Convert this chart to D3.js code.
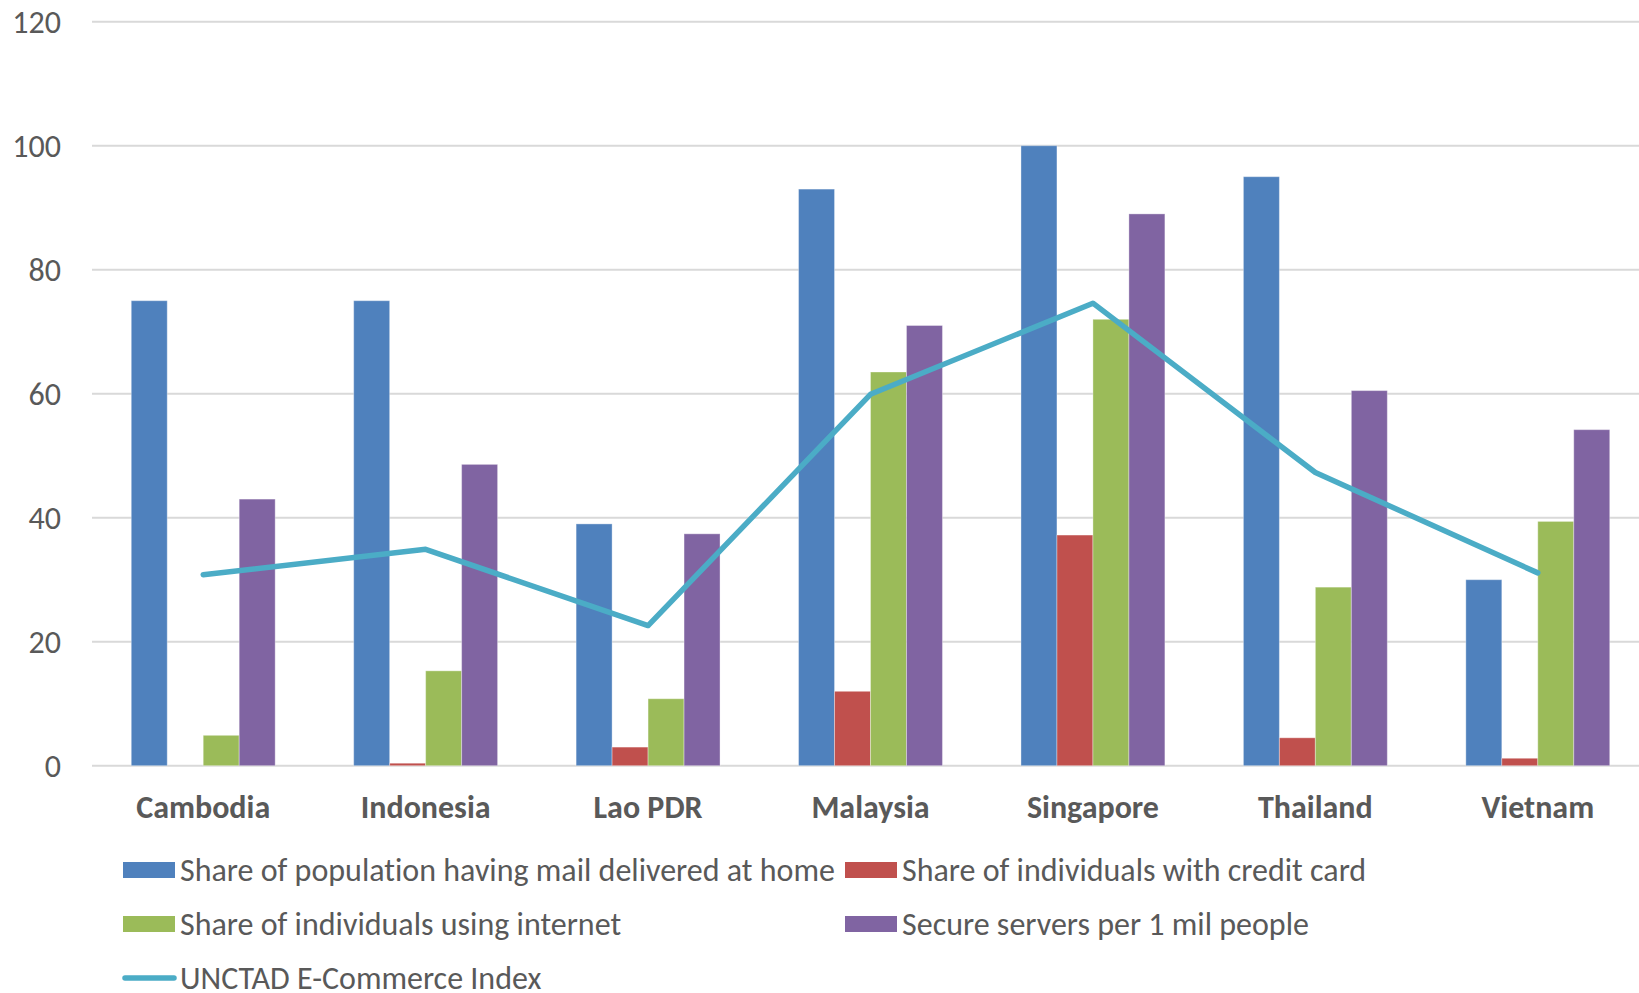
<!DOCTYPE html>
<html>
<head>
<meta charset="utf-8">
<script src="https://cdn.jsdelivr.net/npm/d3@7/dist/d3.min.js"></script>
<style>
    body { margin: 0; background: #fff; }
    svg text { font-family: Carlito, Calibri, "Open Sans", sans-serif; fill: #595959; font-variant-ligatures: none; }
</style>
</head>
<body>
<svg id="chart" width="1639" height="993"></svg>
<script>
var categories = ['Cambodia', 'Indonesia', 'Lao PDR', 'Malaysia', 'Singapore', 'Thailand', 'Vietnam'];
var mailAtHome = [75, 75, 39, 93, 100, 95, 30];
var creditCard = [0, 0.4, 3, 12, 37.2, 4.5, 1.2];
var internetUse = [4.9, 15.3, 10.8, 63.5, 72, 28.8, 39.4];
var secureServers = [43, 48.6, 37.4, 71, 89, 60.5, 54.2];
var ecommerceIndex = [30.8, 34.9, 22.6, 59.9, 74.6, 47.3, 31.1];
var yTicks = [0, 20, 40, 60, 80, 100, 120];

var barSeries = [
    { name: 'Share of population having mail delivered at home', color: '#4f81bd', values: mailAtHome },
    { name: 'Share of individuals with credit card', color: '#c0504d', values: creditCard },
    { name: 'Share of individuals using internet', color: '#9bbb59', values: internetUse },
    { name: 'Secure servers per 1 mil people', color: '#8064a2', values: secureServers }
];
var lineSeries = { name: 'UNCTAD E-Commerce Index', color: '#4bacc6', values: ecommerceIndex };

// plot area runs a little past the right edge of the picture (it is clipped there)
var svg = d3.select('#chart'),
    plotLeft = 92, plotRight = 1649, plotTop = 21.7, plotBottom = 765.7;

var x0 = d3.scaleBand().domain(categories).range([plotLeft, plotRight]).paddingInner(0.353).paddingOuter(0.1765),
    x1 = d3.scaleBand().domain(d3.range(barSeries.length)).range([0, x0.bandwidth()]),
    y = d3.scaleLinear().domain([0, 120]).range([plotBottom, plotTop]);

// gridlines
svg.append('g').selectAll('line').data(yTicks).enter().append('line')
    .attr('x1', plotLeft).attr('x2', plotRight)
    .attr('y1', function (d) { return y(d); }).attr('y2', function (d) { return y(d); })
    .attr('stroke', '#d9d9d9').attr('stroke-width', 2);

// y axis labels
var yAxis = svg.append('g').attr('transform', 'translate(' + 61 + ',0)')
    .call(d3.axisLeft(y).tickValues(yTicks).tickSize(0).tickPadding(0));
yAxis.select('.domain').remove();
yAxis.attr('font-family', null).attr('font-size', null);
yAxis.selectAll('text').style('font-size', '32px').attr('fill', '#595959').attr('dy', '0.35em');

// category labels
var xAxis = svg.append('g').attr('transform', 'translate(0,' + plotBottom + ')')
    .call(d3.axisBottom(x0).tickSize(0).tickPadding(0));
xAxis.select('.domain').remove();
xAxis.attr('font-family', null).attr('font-size', null);
xAxis.selectAll('text').style('font-size', '32px').style('font-weight', 'bold')
    .attr('fill', '#595959').attr('y', 52).attr('dy', 0);

// bars
var groups = svg.append('g').selectAll('g').data(categories).enter().append('g')
    .attr('transform', function (d) { return 'translate(' + x0(d) + ',0)'; });

groups.selectAll('rect')
    .data(function (d, i) {
        return barSeries.map(function (s, k) { return { k: k, v: s.values[i], color: s.color }; });
    })
    .enter().append('rect')
    .attr('x', function (d) { return x1(d.k); })
    .attr('width', x1.bandwidth())
    .attr('y', function (d) { return y(d.v); })
    .attr('height', function (d) { return y(0) - y(d.v); })
    .attr('fill', function (d) { return d.color; })
    .attr('stroke', 'rgba(255,255,255,0.35)').attr('stroke-width', 1);

// line
var line = d3.line()
    .x(function (d, i) { return x0(categories[i]) + x0.bandwidth() / 2; })
    .y(function (d) { return y(d); });

svg.append('path').datum(lineSeries.values)
    .attr('d', line)
    .attr('fill', 'none')
    .attr('stroke', lineSeries.color)
    .attr('stroke-width', 5.5)
    .attr('stroke-linejoin', 'round')
    .attr('stroke-linecap', 'round');

// legend
var legendItems = [
    { s: barSeries[0], x: 123, y: 870 },
    { s: barSeries[1], x: 845, y: 870 },
    { s: barSeries[2], x: 123, y: 924 },
    { s: barSeries[3], x: 845, y: 924 },
    { s: lineSeries, x: 123, y: 978, line: true }
];

var legend = svg.append('g').selectAll('g').data(legendItems).enter().append('g')
    .attr('transform', function (d) { return 'translate(' + d.x + ',' + d.y + ')'; });

legend.each(function (d) {
    var g = d3.select(this);
    if (d.line) {
        g.append('line').attr('x1', 2).attr('x2', 51).attr('y1', 0).attr('y2', 0)
            .attr('stroke', d.s.color).attr('stroke-width', 5.5).attr('stroke-linecap', 'round');
    } else {
        g.append('rect').attr('x', 0).attr('y', -8).attr('width', 52).attr('height', 16)
            .attr('fill', d.s.color);
    }
    g.append('text').attr('x', 57).attr('y', 0).attr('dy', '0.35em')
        .style('font-size', '32px').text(d.s.name);
});
</script>
</body>
</html>
